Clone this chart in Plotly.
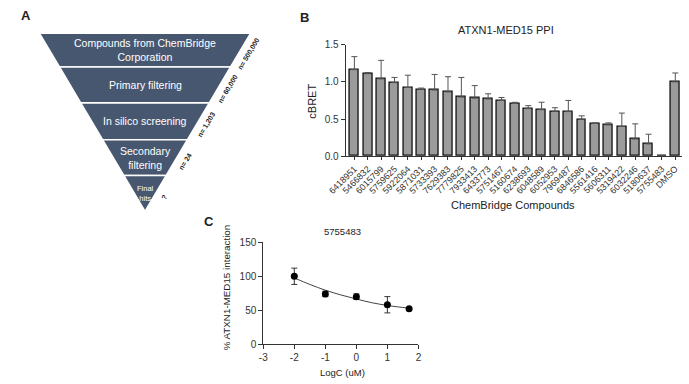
import plotly.graph_objects as go

# ---------------- data ----------------
stages = ["Compounds from ChemBridge<br>Corporation", "Primary filtering",
          "In silico screening", "Secondary<br>filtering", "Final<br>hits"]
stage_counts = ["n= 500,000", "n= 60,000", "n= 1,203", "n= 24", "?"]

compounds = ["6418951", "5466832", "6015799", "5759625", "5922064", "5871031",
             "5733393", "7629383", "7779825", "7933413", "6433773", "5751467",
             "5160674", "6238693", "6048589", "6052953", "7969487", "6846586",
             "5561416", "5606311", "5319422", "6032246", "5180637", "5755483", "DMSO"]
cbret = [1.165, 1.11, 1.04, 0.99, 0.925, 0.90, 0.89, 0.865, 0.795, 0.78, 0.77, 0.75,
         0.71, 0.64, 0.626, 0.604, 0.60, 0.496, 0.44, 0.42, 0.40, 0.23, 0.165, 0.0, 1.0]
cbret_err = [0.175, 0.016, 0.25, 0.07, 0.165, 0.017, 0.21, 0.205, 0.265, 0.17, 0.07, 0.04,
             0.015, 0.04, 0.10, 0.048, 0.15, 0.047, 0.008, 0.028, 0.18, 0.205, 0.13, 0.0, 0.12]
cbret_ticks = [0, 0.5, 1.0, 1.5]
cbret_ticktext = ["0.0", "0.5", "1.0", "1.5"]

logc = [-2, -1, 0, 1, 1.7]
interaction = [100, 74, 70, 58, 52]
interaction_err = [12, 4, 4, 12, 2]
fit_x = [-2, -1.5, -1, -0.5, 0, 0.5, 1, 1.35, 1.7]
fit_y = [97.5, 88, 79.5, 72.5, 66.5, 61, 57, 54.8, 53]
logc_ticks = [-3, -2, -1, 0, 1, 2]
logc_ticktext = ["-3", "-2", "-1", "0", "1", "2"]
interaction_ticks = [0, 50, 100, 150]

W, H = 689, 384
FONT = "Liberation Sans, Arial, sans-serif"

fig = go.Figure()

# ---------------- Panel A: funnel diagram (overlay pixel axes) ----------------
top_y, apex_y, cx, half_top = 28, 212, 131, 109
bounds = [28, 63, 100, 138, 175, 212]
def half_w(y):
    return half_top * (apex_y - y) / (apex_y - top_y)

for i, lab in enumerate(stages):
    y0, y1 = bounds[i], bounds[i + 1]
    xs = [cx - half_w(y0), cx + half_w(y0), cx + half_w(y1), cx - half_w(y1), cx - half_w(y0)]
    ys = [y0, y0, y1, y1, y0]
    fig.add_trace(go.Scatter(x=xs, y=ys, xaxis="x3", yaxis="y3", mode="lines",
                             fill="toself", fillcolor="#485770",
                             line=dict(color="white", width=1.6),
                             hoverinfo="skip", showlegend=False))
    yc = (y0 + y1) / 2
    fig.add_annotation(x=cx, y=yc, xref="x3", yref="y3", text=lab, showarrow=False,
                       font=dict(family=FONT, size=7.5 if i == 4 else 10.5, color="white"))
    ex = cx + half_w(yc)
    fig.add_annotation(x=ex + 8.5, y=yc + 4, xref="x3", yref="y3", text="<b>" + stage_counts[i] + "</b>",
                       showarrow=False, textangle=-59,
                       font=dict(family=FONT, size=7, color="#222"))

# ---------------- Panel B: bars ----------------
fig.add_trace(go.Bar(x=compounds, y=cbret, xaxis="x", yaxis="y", width=0.67,
                     marker=dict(color="#9b9b9b", line=dict(color="#111", width=1.3)),
                     error_y=dict(type="data", array=cbret_err, arrayminus=[0] * len(cbret),
                                  symmetric=False, color="#555", thickness=1, width=3),
                     showlegend=False))

# ---------------- Panel C: dose response ----------------
fig.add_trace(go.Scatter(x=fit_x, y=fit_y, xaxis="x2", yaxis="y2", mode="lines",
                         line=dict(color="#444", width=1, shape="spline"), showlegend=False))
fig.add_trace(go.Scatter(x=logc, y=interaction, xaxis="x2", yaxis="y2", mode="markers",
                         marker=dict(color="black", size=7),
                         error_y=dict(type="data", array=interaction_err, color="#333",
                                      thickness=1, width=3),
                         showlegend=False))

axis_common = dict(showgrid=False, zeroline=False, showline=True, linecolor="#333",
                   linewidth=1, ticks="outside", ticklen=4, tickcolor="#333",
                   tickfont=dict(family=FONT, size=10, color="#333"))

fig.update_layout(
    width=W, height=H, margin=dict(l=0, r=0, t=0, b=0),
    plot_bgcolor="rgba(0,0,0,0)", paper_bgcolor="white",
    font=dict(family=FONT, color="#333"),
    bargap=0,
    xaxis=dict(domain=[338 / W, 685 / W], range=[-0.65, 24.51], anchor="y",
               tickangle=-45, **{**axis_common, "tickfont": dict(family=FONT, size=9, color="#333"),
                                 "ticklen": 3}),
    yaxis=dict(domain=[1 - 155 / H, 1 - 40 / H], range=[0, 1.5], anchor="x",
               tickvals=cbret_ticks, ticktext=cbret_ticktext, **axis_common),
    xaxis2=dict(domain=[253 / W, 413 / W], range=[-3, 2], anchor="y2",
                tickvals=logc_ticks, ticktext=logc_ticktext, **axis_common),
    yaxis2=dict(domain=[1 - 349 / H, 1 - 244 / H], range=[0, 150], anchor="x2",
                tickvals=interaction_ticks, **axis_common),
    xaxis3=dict(domain=[0, 1], range=[0, W], anchor="y3", visible=False, fixedrange=True),
    yaxis3=dict(domain=[0, 1], range=[H, 0], anchor="x3", visible=False, fixedrange=True),
)

ann = [
    dict(x=8 / W, y=1 - 10 / H, text="<b>A</b>", size=13, angle=0),
    dict(x=295 / W, y=1 - 12 / H, text="<b>B</b>", size=13, angle=0),
    dict(x=197 / W, y=1 - 222 / H, text="<b>C</b>", size=13, angle=0),
    dict(x=503 / W, y=1 - 25 / H, text="ATXN1-MED15 PPI", size=11, angle=0),
    dict(x=511 / W, y=1 - 205 / H, text="ChemBridge Compounds", size=11, angle=0),
    dict(x=335 / W, y=1 - 233 / H, text="5755483", size=9.5, angle=0),
    dict(x=335 / W, y=1 - 378 / H, text="LogC (uM)", size=9.5, angle=0),
    dict(x=303 / W, y=1 - 98 / H, text="cBRET", size=11, angle=-90),
    dict(x=216 / W, y=1 - 290 / H, text="% ATXN1-MED15 interaction", size=9.8, angle=-90),
]
for a in ann:
    fig.add_annotation(x=a["x"], y=a["y"], xref="paper", yref="paper", text=a["text"],
                       showarrow=False, xanchor="center", yanchor="middle", textangle=a["angle"],
                       font=dict(family=FONT, size=a["size"], color="#222"))

fig.write_html("out.html")
